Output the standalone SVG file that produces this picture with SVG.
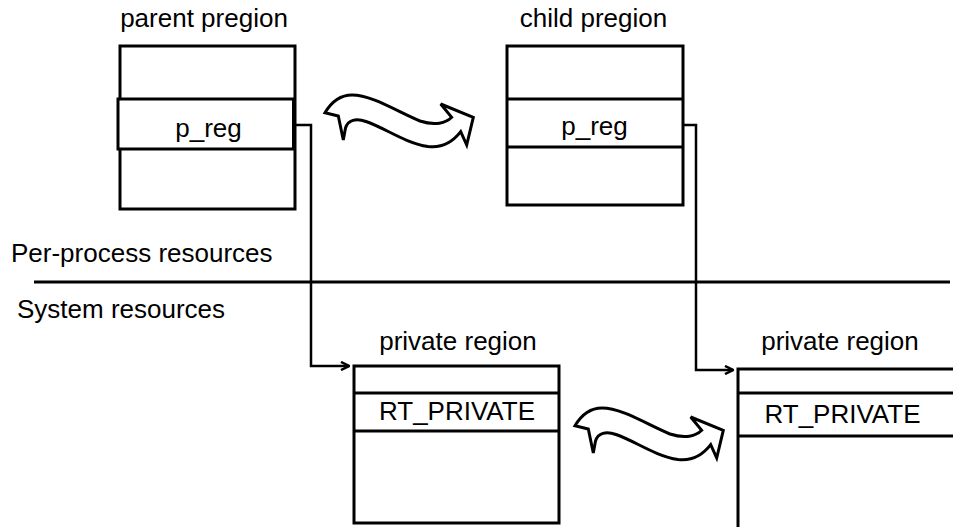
<svg xmlns="http://www.w3.org/2000/svg" width="953" height="527" viewBox="0 0 953 527">
  <style>
    text { font-family: "Liberation Sans", Arial, sans-serif; font-size: 26px; fill: #000; }
    .mid { text-anchor: middle; }
    .box { fill: #fff; stroke: #000; stroke-width: 3; }
    .sep { stroke: #000; stroke-width: 3; fill: none; }
    .conn { stroke: #000; stroke-width: 2.5; fill: none; }
    .wave { fill: #fff; stroke: #000; stroke-width: 3; stroke-linejoin: miter; }
  </style>
  <defs>
    <marker id="open" viewBox="0 0 10 10" refX="9" refY="5" markerWidth="10" markerHeight="10" markerUnits="userSpaceOnUse" orient="auto">
      <path d="M1,1 L9,5 L1,9" fill="none" stroke="#000" stroke-width="2.5"/>
    </marker>
    <!-- wavy "copied to" arrow -->
    <path id="wave" class="wave" d="M325,112.7 C332,101 342,95 352,95 C372,95 398,112 420,121 C435,126 446,123 451.7,117.3 L440.7,104 L473.3,117.3 L466.7,145 L460.7,131.7 C452,143 440,148 428,146.5 C405,143 385,128 366,121.5 C356,118 348,120 345.5,128 L343.3,140 L338.3,116 Z"/>
  </defs>

  <!-- divider between per-process and system resources -->
  <g id="divider">
    <line class="sep" x1="34" y1="282" x2="950" y2="282"/>
    <text x="11" y="262">Per-process resources</text>
    <text x="17" y="318">System resources</text>
  </g>

  <g id="parent-pregion">
    <text class="mid" x="204" y="27">parent pregion</text>
    <rect class="box" x="120" y="46" width="175" height="163"/>
    <rect class="box" x="118" y="99" width="176" height="50"/>
    <line x1="294" y1="99" x2="294" y2="149" stroke="#000" stroke-width="4"/>
    <text class="mid" x="208.5" y="137">p_reg</text>
  </g>

  <g id="child-pregion">
    <text class="mid" x="593.5" y="27">child pregion</text>
    <rect class="box" x="507" y="46" width="176" height="159"/>
    <line class="sep" x1="507" y1="99" x2="683" y2="99"/>
    <line class="sep" x1="507" y1="147" x2="683" y2="147"/>
    <text class="mid" x="594.5" y="135">p_reg</text>
  </g>

  <g id="private-region-1">
    <text class="mid" x="458" y="350">private region</text>
    <rect class="box" x="354" y="366" width="205" height="157"/>
    <line class="sep" x1="354" y1="393" x2="559" y2="393"/>
    <line class="sep" x1="354" y1="431" x2="559" y2="431"/>
    <text class="mid" x="457" y="420">RT_PRIVATE</text>
  </g>

  <g id="private-region-2">
    <text class="mid" x="840" y="350">private region</text>
    <path class="sep" d="M960,369 L738,369 L738,530"/>
    <line class="sep" x1="738" y1="393" x2="960" y2="393"/>
    <line class="sep" x1="738" y1="436" x2="960" y2="436"/>
    <text class="mid" x="842.5" y="423">RT_PRIVATE</text>
  </g>

  <g id="connectors">
    <path class="conn" d="M295,125 L311,125 L311,366 L349,366" marker-end="url(#open)"/>
    <path class="conn" d="M683,125 L696,125 L696,370 L733,370" marker-end="url(#open)"/>
    <use href="#wave"/>
    <use href="#wave" transform="translate(250,313)"/>
  </g>
</svg>
